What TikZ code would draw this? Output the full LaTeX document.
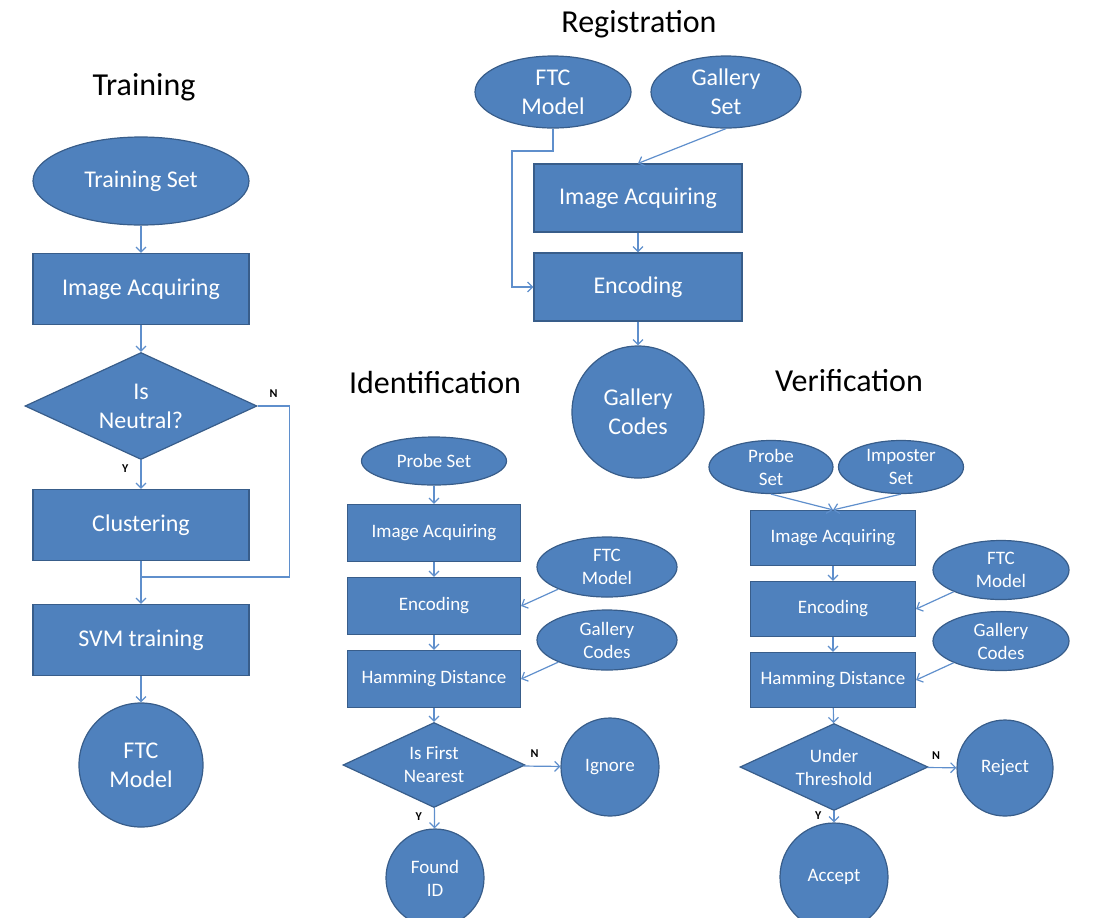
\documentclass[tikz,border=0pt]{standalone}
\usepackage{fontspec}
\setmainfont{Carlito}
\usepackage{tikz}
\usetikzlibrary{shapes.geometric, arrows.meta, positioning, calc}

\definecolor{boxblue}{RGB}{79,129,189}
\definecolor{edgeblue}{RGB}{56,93,138}
\definecolor{linkblue}{RGB}{95,143,204}

\tikzset{
  base/.style={draw=edgeblue, line width=0.6pt, fill=boxblue, text=white, align=center, inner sep=0pt},
  proc/.style={base, rectangle},
  term/.style={base, ellipse},
  decide/.style={base, diamond, aspect=2.15},
  endpt/.style={base, circle},
  link/.style={->, draw=linkblue, line width=0.6pt},
  ttl/.style={font=\fontsize{16}{19}\selectfont},
  yn/.style={font=\fontsize{6}{6}\selectfont\bfseries, inner sep=0pt},
  big/.style={font=\fontsize{12}{14.5}\selectfont},
  small/.style={font=\fontsize{9.5}{11.5}\selectfont},
}

\begin{document}
\begin{tikzpicture}[x=0.5pt, y=-0.5pt, >={Straight Barb[length=2.5pt,width=5pt]}]
        \useasboundingbox (0,0) rectangle (1097,917);

        % Training
        \node[ttl] (t-title) at (144,87) {Training};
        \node[term, big, minimum width=108pt, minimum height=44pt] (t-set) at (141,181) {Training Set};
        \node[proc, big, minimum width=108pt, minimum height=35.5pt] (t-acq) at (141,289) {Image Acquiring};
        \node[decide, big, minimum width=116pt, minimum height=53.5pt] (t-neutral) at (141,406) {Is\\Neutral?};
        \node[proc, big, minimum width=108pt, minimum height=35.5pt] (t-clust) at (141,525) {Clustering};
        \node[proc, big, minimum width=108pt, minimum height=35.5pt] (t-svm) at (141,640) {SVM training};
        \node[endpt, big, minimum size=62pt] (t-ftc) at (141,765) {FTC\\Model};
        \coordinate (t-join) at (141,577);

        \draw[link] (t-set) -- (t-acq);
        \draw[link] (t-acq) -- (t-neutral);
        \draw[link] (t-neutral) -- node[yn, pos=0.3, left=6pt] {Y} (t-clust);
        \draw[link] (t-clust) -- (t-svm);
        \draw[link] (t-svm) -- (t-ftc);
        \draw[draw=linkblue, line width=0.6pt] (t-neutral.east) -- node[yn, above=4pt] {N} ++(32,0) |- (t-join);

        % Registration
        \node[ttl] (r-title) at (639,24) {Registration};
        \node[term, big, minimum width=78pt, minimum height=36pt] (r-ftc) at (553,92) {FTC\\Model};
        \node[term, big, minimum width=75pt, minimum height=36pt] (r-gal) at (726,92) {Gallery\\Set};
        \node[proc, big, minimum width=104pt, minimum height=34pt] (r-acq) at (638,198) {Image Acquiring};
        \node[proc, big, minimum width=104pt, minimum height=34pt] (r-enc) at (638,287) {Encoding};
        \node[endpt, big, minimum size=66pt] (r-codes) at (638,412) {Gallery\\Codes};
        \coordinate (r-bend) at (512,151);

        \draw[link] (r-gal.south) -- (r-acq.north);
        \draw[link] (r-ftc.south) |- (r-bend) |- (r-enc.west);
        \draw[link] (r-acq) -- (r-enc);
        \draw[link] (r-enc) -- (r-codes);

        % Identification
        \node[ttl] (i-title) at (435,382) {Identification};
        \node[term, small, minimum width=72.5pt, minimum height=24pt] (i-probe) at (434,461) {Probe Set};
        \node[proc, small, minimum width=86.5pt, minimum height=28.5pt] (i-acq) at (434,533) {Image Acquiring};
        \node[proc, small, minimum width=86.5pt, minimum height=28.5pt] (i-enc) at (434,606) {Encoding};
        \node[proc, small, minimum width=86.5pt, minimum height=28.5pt] (i-ham) at (434,679) {Hamming Distance};
        \node[term, small, minimum width=70pt, minimum height=30pt] (i-ftc) at (607,567) {FTC\\Model};
        \node[term, small, minimum width=70pt, minimum height=30pt] (i-gal) at (607,640) {Gallery\\Codes};
        \node[decide, small, minimum width=91pt, minimum height=42.5pt] (i-first) at (434,765) {Is First\\Nearest};
        \node[endpt, small, minimum size=49pt] (i-ignore) at (610,767) {Ignore};
        \node[endpt, small, minimum size=49pt] (i-found) at (435,878) {Found\\ID};

        \draw[link] (i-probe) -- (i-acq);
        \draw[link] (i-acq) -- (i-enc);
        \draw[link] (i-enc) -- (i-ham);
        \draw[link] (i-ham) -- (i-first);
        \draw[link] (i-ftc) -- (i-enc.east);
        \draw[link] (i-gal) -- (i-ham.east);
        \draw[link] (i-first) -- node[yn, pos=0.3, above=4pt] {N} (i-ignore);
        \draw[link] (i-first) -- node[yn, pos=0.4, left=6pt] {Y} (i-found);

        % Verification
        \node[ttl] (v-title) at (849,381) {Verification};
        \node[term, small, minimum width=62pt, minimum height=26.5pt] (v-probe) at (771,467) {Probe\\Set};
        \node[term, small, minimum width=62.5pt, minimum height=26.5pt] (v-imp) at (901,467) {Imposter\\Set};
        \node[proc, small, minimum width=82.5pt, minimum height=27.5pt] (v-acq) at (833,538) {Image Acquiring};
        \node[proc, small, minimum width=82.5pt, minimum height=27.5pt] (v-enc) at (833,609) {Encoding};
        \node[proc, small, minimum width=82.5pt, minimum height=27.5pt] (v-ham) at (833,680) {Hamming Distance};
        \node[term, small, minimum width=68pt, minimum height=29.5pt] (v-ftc) at (1001,570) {FTC\\Model};
        \node[term, small, minimum width=68pt, minimum height=29.5pt] (v-gal) at (1001,641) {Gallery\\Codes};
        \node[decide, small, minimum width=94pt, minimum height=43.5pt] (v-thr) at (834,767) {Under\\Threshold};
        \node[endpt, small, minimum size=48pt] (v-rej) at (1005,768) {Reject};
        \node[endpt, small, minimum size=54pt] (v-acc) at (834,877) {Accept};

        \draw[link] (v-probe.south) -- (v-acq.north);
        \draw[link] (v-imp.south) -- (v-acq.north);
        \draw[link] (v-acq) -- (v-enc);
        \draw[link] (v-enc) -- (v-ham);
        \draw[link] (v-ham) -- (v-thr);
        \draw[link] (v-ftc) -- (v-enc.east);
        \draw[link] (v-gal) -- (v-ham.east);
        \draw[link] (v-thr) -- node[yn, pos=0.3, above=4pt] {N} (v-rej);
        \draw[link] (v-thr) -- node[yn, pos=0.4, left=6pt] {Y} (v-acc);
    \end{tikzpicture}
\end{document}
